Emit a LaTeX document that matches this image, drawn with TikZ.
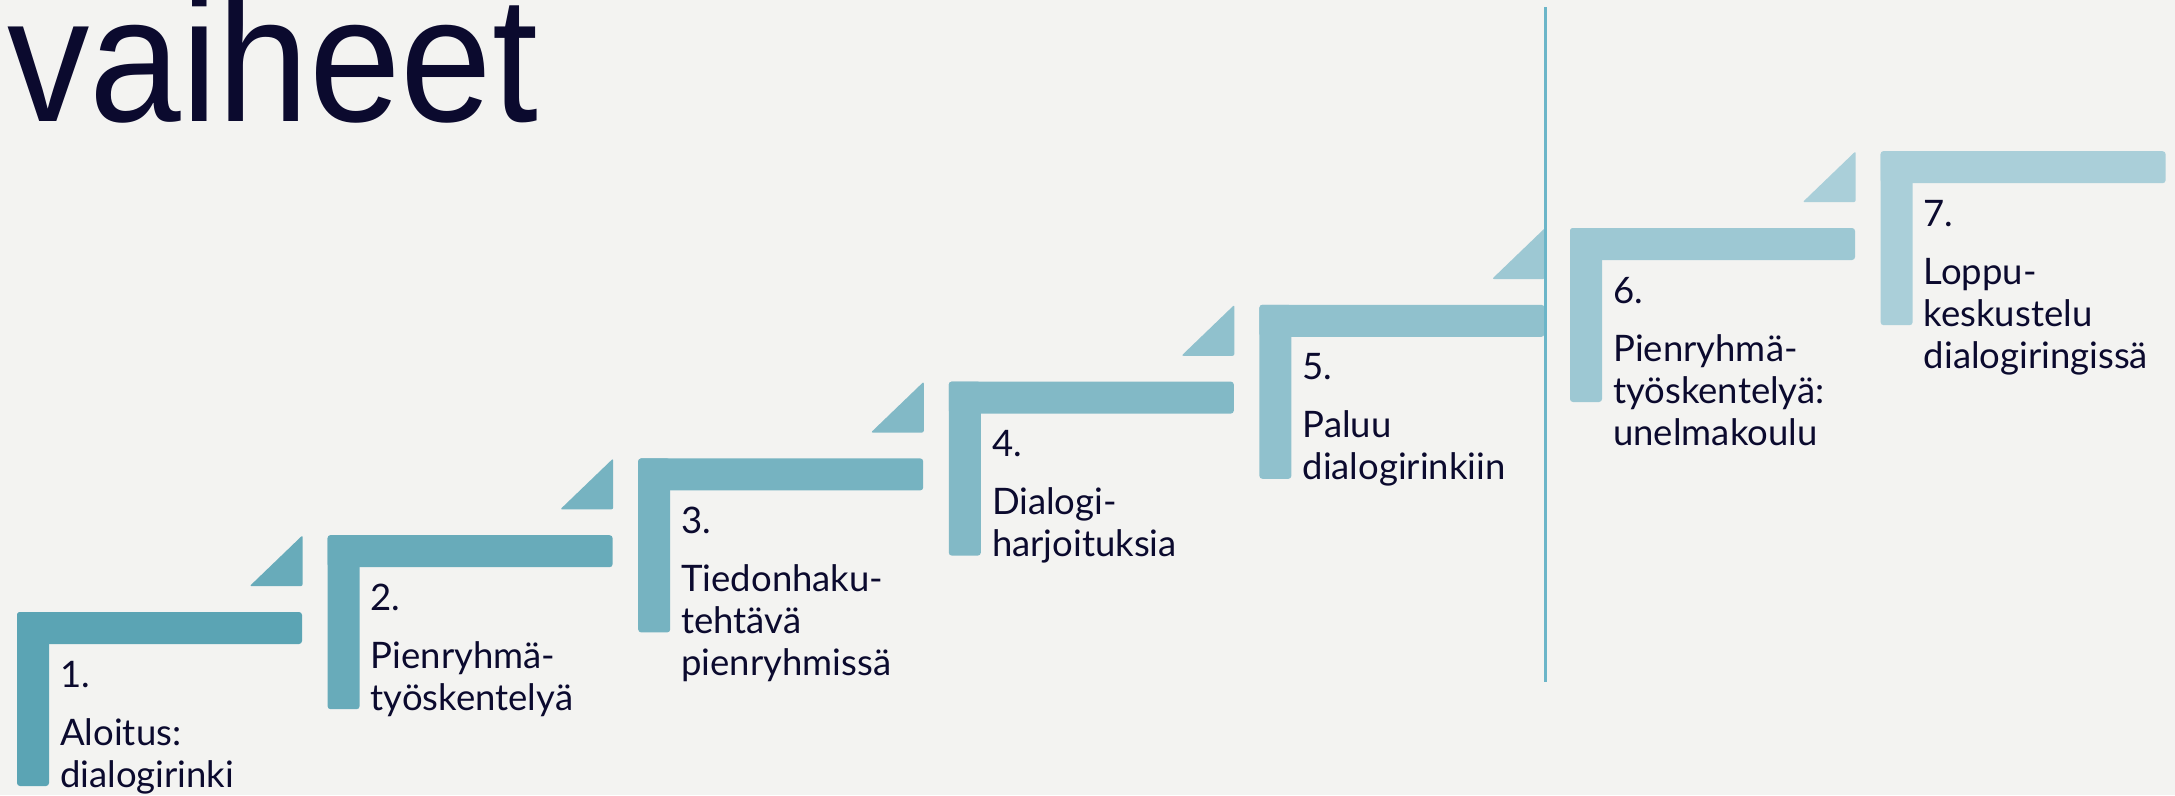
\documentclass[tikz,border=0pt]{standalone}
\usepackage{fontspec}
\setmainfont{Lato}
\newfontfamily\titlefont{Liberation Sans}
\definecolor{bg}{HTML}{F3F3F1}
\definecolor{ink}{HTML}{0B0A2E}
\definecolor{stepA}{HTML}{5BA4B4}
\definecolor{stepB}{HTML}{AACFD9}
\definecolor{rulec}{HTML}{6BB5C8}
\tikzset{
  txt/.style={font=\fontsize{36.5}{36.5}\selectfont, text=ink, anchor=base west, inner sep=0pt},
  bar/.style={fill=stepc, rounded corners=3pt},
  wedge/.style={fill=stepc, rounded corners=2pt},
  titletxt/.style={font=\titlefont\fontsize{179}{179}\selectfont, text=ink, anchor=base west, inner sep=0pt, xscale=0.92},
}
\newcommand\stairstep[1]{%
  \pgfmathsetmacro\L{17+310.6*#1}%
  \pgfmathsetmacro\T{612-76.8*#1}%
  \pgfmathtruncatemacro\pct{100-#1*100/6}%
  \colorlet{stepc}{stepA!\pct!stepB}%
  \fill[bar] (\L,\T) rectangle ++(285,32);
  \fill[bar] (\L,\T) rectangle ++(32,174);
  \ifnum#1>0
    \fill[wedge] (\L-25,\T) -- (\L-25,\T+51) -- (\L-78,\T+51) -- cycle;
  \fi
}
\newcommand\steptext[3]{\node[txt] (#1) at (\L+43,\T+#2) {#3};}
\begin{document}
\begin{tikzpicture}[x=1pt,y=-1pt]
\useasboundingbox (0,0) rectangle (2175,795);
\clip (0,0) rectangle (2175,795);
\fill[bg] (0,0) rectangle (2175,795);
\node[titletxt] (title) at (7,121) {vaiheet};

\stairstep{0}
\steptext{n1}{75}{1.}
\steptext{a1}{133}{Aloitus:}
\steptext{b1}{175}{dialogirinki}

\stairstep{1}
\steptext{n2}{75}{2.}
\steptext{a2}{133}{Pienryhmä-}
\steptext{b2}{175}{työskentelyä}

\stairstep{2}
\steptext{n3}{75}{3.}
\steptext{a3}{133}{Tiedonhaku-}
\steptext{b3}{175}{tehtävä}
\steptext{c3}{217}{pienryhmissä}

\stairstep{3}
\steptext{n4}{75}{4.}
\steptext{a4}{133}{Dialogi-}
\steptext{b4}{175}{harjoituksia}

\stairstep{4}
\steptext{n5}{75}{5.}
\steptext{a5}{133}{Paluu}
\steptext{b5}{175}{dialogirinkiin}

\stairstep{5}
\steptext{n6}{75}{6.}
\steptext{a6}{133}{Pienryhmä-}
\steptext{b6}{175}{työskentelyä:}
\steptext{c6}{217}{unelmakoulu}

\stairstep{6}
\steptext{n7}{75}{7.}
\steptext{a7}{133}{Loppu-}
\steptext{b7}{175}{keskustelu}
\steptext{c7}{217}{dialogiringissä}

\coordinate (ltop) at (1545,7);
\coordinate (lbot) at (1545,682);
\draw[rulec, line width=3pt] (ltop) -- (lbot);
\end{tikzpicture}
\end{document}
